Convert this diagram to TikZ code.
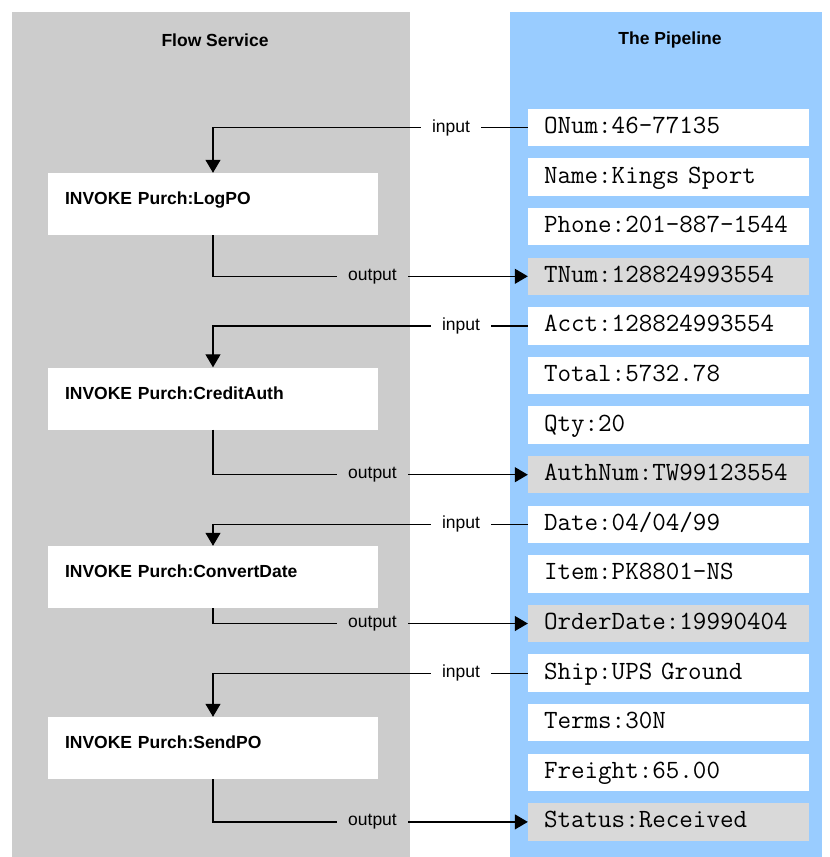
\documentclass[tikz,border=0pt]{standalone}
\usepackage{fontspec}
\setmainfont{Liberation Sans}
\usetikzlibrary{arrows.meta}
\definecolor{flowgray}{HTML}{CCCCCC}
\definecolor{pipeblue}{HTML}{99CCFF}
\definecolor{outgray}{HTML}{D9D9D9}
\tikzset{
  invoke/.style={fill=white, text width=296pt, inner xsep=17pt, align=left,
    minimum height=62pt, text height=13pt, text depth=12pt,
    font=\bfseries\fontsize{17.5}{20}\selectfont},
  pipe/.style={fill=white, text width=249pt, inner xsep=16pt, align=left,
    minimum height=37.5pt, text height=17pt, text depth=5pt,
    font=\ttfamily\fontsize{26.3}{28}\selectfont},
  pipeout/.style={pipe, fill=outgray},
  lbl/.style={inner xsep=11pt, font=\fontsize{17.5}{20}\selectfont},
  wire/.style={line width=1.2pt},
  flow/.style={wire, -{Triangle[length=13pt,width=15pt]}},
}
\begin{document}
\begin{tikzpicture}[x=1pt,y=-1pt]
\useasboundingbox (0,0) rectangle (830,857);
% the two columns
\fill[flowgray] (12,12) rectangle (410,857);
\fill[pipeblue] (510,12) rectangle (822,857);
\node[font=\bfseries\fontsize{17.5}{20}\selectfont] (ftitle) at (215,40) {Flow Service};
\node[font=\bfseries\fontsize{17.5}{20}\selectfont] (ptitle) at (670,40) {The Pipeline};

% flow steps
\node[invoke] (logpo) at (213,204) {INVOKE Purch:LogPO};
\node[invoke] (credit) at (213,398.5) {INVOKE Purch:CreditAuth};
\node[invoke] (convert) at (213,577) {INVOKE Purch:ConvertDate};
\node[invoke] (sendpo) at (213,748) {INVOKE Purch:SendPO};

% pipeline fields
\node[pipe] (onum) at (668.5,127.5) {ONum:46-77135};
\node[pipe] (name) at (668.5,177.1) {Name:Kings Sport};
\node[pipe] (phone) at (668.5,226.7) {Phone:201-887-1544};
\node[pipeout] (tnum) at (668.5,276.3) {TNum:128824993554};
\node[pipe] (acct) at (668.5,325.9) {Acct:128824993554};
\node[pipe] (total) at (668.5,375.5) {Total:5732.78};
\node[pipe] (qty) at (668.5,425.1) {Qty:20};
\node[pipeout] (authnum) at (668.5,474.7) {AuthNum:TW99123554};
\node[pipe] (date) at (668.5,524.3) {Date:04/04/99};
\node[pipe] (item) at (668.5,573.9) {Item:PK8801-NS};
\node[pipeout] (orderdate) at (668.5,623.5) {OrderDate:19990404};
\node[pipe] (ship) at (668.5,673.1) {Ship:UPS Ground};
\node[pipe] (terms) at (668.5,722.7) {Terms:30N};
\node[pipe] (freight) at (668.5,772.3) {Freight:65.00};
\node[pipeout] (status) at (668.5,821.9) {Status:Received};

% input / output labels
\node[lbl] (in1) at (451,127.5) {input};
\node[lbl] (out1) at (372.5,276.3) {output};
\node[lbl] (in2) at (461,325.9) {input};
\node[lbl] (out2) at (372.5,474.7) {output};
\node[lbl] (in3) at (461,524.3) {input};
\node[lbl] (out3) at (372.5,623.5) {output};
\node[lbl] (in4) at (461,673.1) {input};
\node[lbl] (out4) at (372.5,821.9) {output};

% wires
\draw[wire] (onum.west) -- (in1.east);
\draw[flow] (in1.west) -| (logpo.north);
\draw[wire] (logpo.south) |- (out1.west);
\draw[flow] (out1.east) -- (tnum.west);

\draw[wire] (acct.west) -- (in2.east);
\draw[flow] (in2.west) -| (credit.north);
\draw[wire] (credit.south) |- (out2.west);
\draw[flow] (out2.east) -- (authnum.west);

\draw[wire] (date.west) -- (in3.east);
\draw[flow] (in3.west) -| (convert.north);
\draw[wire] (convert.south) |- (out3.west);
\draw[flow] (out3.east) -- (orderdate.west);

\draw[wire] (ship.west) -- (in4.east);
\draw[flow] (in4.west) -| (sendpo.north);
\draw[wire] (sendpo.south) |- (out4.west);
\draw[flow] (out4.east) -- (status.west);
\end{tikzpicture}
\end{document}
